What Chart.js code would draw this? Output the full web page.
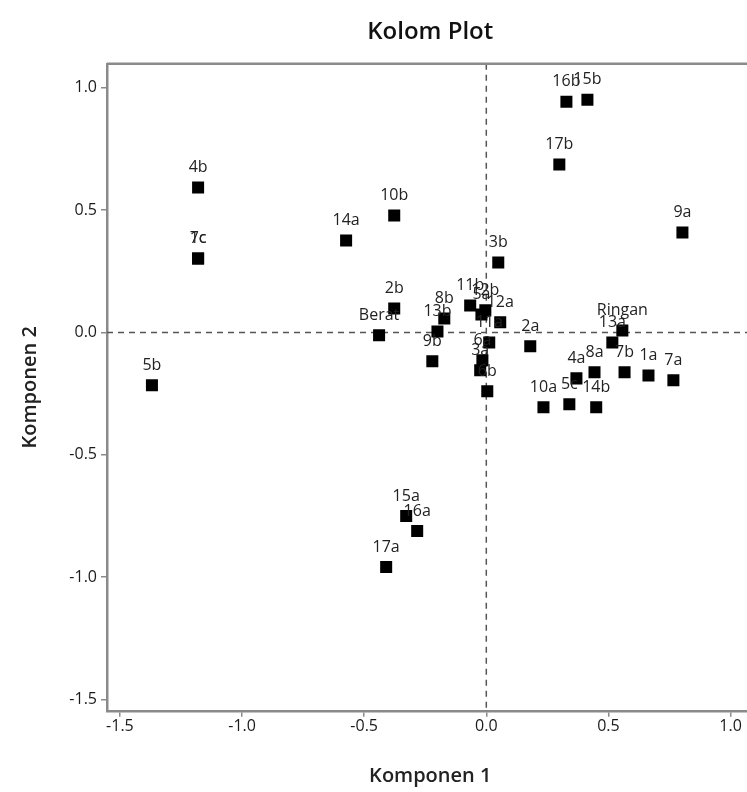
<!DOCTYPE html>
<html>
<head>
<meta charset="utf-8">
<script src="https://cdn.jsdelivr.net/npm/chart.js@4"></script>
<style>
  html, body { margin: 0; padding: 0; background: #fff; overflow: hidden; }
  #wrap { width: 762px; height: 792px; }
</style>
</head>
<body>
<div id="wrap"><canvas id="graph"></canvas></div>
<script>
// point labels + scores
const pointLabels = ['4b', '1c', '7c', '14a', '10b', '2b', 'Berat', '13b', '8b', '9b', '5b',
    '15a', '16a', '17a', '11b', '12b', '5a', '12a', '11a', '6a', '3a', '6b', '3b', '2a',
    '10a', '5c', '14b', '4a', '8a', '7b', '1a', '7a', 'Ringan', '13a', '16b', '15b', '17b', '9a'];
const komponen1 = [-1.18, -1.18, -1.18, -0.574, -0.377, -0.377, -0.439, -0.20, -0.172, -0.221, -1.369,
    -0.328, -0.283, -0.41, -0.066, -0.004, -0.02, 0.057, 0.012, -0.016, -0.025, 0.004, 0.049, 0.18,
    0.234, 0.34, 0.45, 0.369, 0.443, 0.566, 0.664, 0.766, 0.557, 0.516, 0.328, 0.414, 0.299, 0.803];
const komponen2 = [0.592, 0.302, 0.302, 0.376, 0.478, 0.098, -0.012, 0.004, 0.057, -0.118, -0.216,
    -0.751, -0.812, -0.959, 0.110, 0.090, 0.073, 0.041, -0.041, -0.114, -0.155, -0.241, 0.286, -0.057,
    -0.306, -0.294, -0.306, -0.188, -0.163, -0.163, -0.176, -0.196, 0.008, -0.041, 0.943, 0.951, 0.686, 0.408];
const xTicks = [-1.5, -1.0, -0.5, 0.0, 0.5, 1.0];
const yTicks = [-1.5, -1.0, -0.5, 0.0, 0.5, 1.0];

const fontName = "'Open Sans', 'Noto Sans', sans-serif";
const axisGray = '#8a8a8a';

// dashed zero lines, top frame line and the text over each point
const extras = {
    id: 'extras',
    beforeDatasetsDraw(chart) {
        const {ctx, chartArea, scales} = chart;
        ctx.save();
        ctx.strokeStyle = '#555';
        ctx.lineWidth = 1.5;
        ctx.setLineDash([6, 5]);
        const x0 = scales.x.getPixelForValue(0);
        const y0 = scales.y.getPixelForValue(0);
        ctx.beginPath();
        ctx.moveTo(x0, chartArea.top);
        ctx.lineTo(x0, chartArea.bottom);
        ctx.moveTo(chartArea.left, y0);
        ctx.lineTo(chartArea.right, y0);
        ctx.stroke();
        ctx.setLineDash([]);
        ctx.strokeStyle = axisGray;
        ctx.lineWidth = 2.5;
        ctx.beginPath();
        ctx.moveTo(chartArea.left, chartArea.top);
        ctx.lineTo(chartArea.right, chartArea.top);
        ctx.stroke();
        ctx.restore();
    },
    afterDatasetsDraw(chart) {
        const {ctx} = chart;
        const meta = chart.getDatasetMeta(0);
        ctx.save();
        ctx.font = '16px ' + fontName;
        ctx.fillStyle = '#222';
        ctx.textAlign = 'center';
        ctx.textBaseline = 'middle';
        meta.data.forEach((pt, i) => {
            ctx.fillText(pointLabels[i], pt.x, pt.y - 20);
        });
        ctx.restore();
    }
};

const points = komponen1.map((x, i) => ({x: x, y: komponen2[i]}));

new Chart(document.getElementById('graph'), {
    type: 'scatter',
    data: {
        datasets: [{
            data: points,
            pointStyle: 'rect',
            pointRadius: 8.5,
            pointHoverRadius: 8.5,
            backgroundColor: '#000',
            borderColor: '#000',
            borderWidth: 0
        }]
    },
    options: {
        responsive: true,
        maintainAspectRatio: false,
        animation: false,
        layout: {padding: {left: 14, right: 0, top: 8, bottom: 4}},
        plugins: {
            legend: {display: false},
            tooltip: {enabled: false},
            title: {
                display: true,
                text: 'Kolom Plot',
                fullSize: false,
                color: '#111',
                font: {family: fontName, size: 24, weight: '600'},
                padding: {top: 10, bottom: 17}
            }
        },
        scales: {
            x: {
                type: 'linear',
                min: -1.553,
                max: 1.094,
                afterBuildTicks: (scale) => { scale.ticks = xTicks.map(v => ({value: v})); },
                ticks: {
                    color: '#1a1a1a',
                    font: {family: fontName, size: 16},
                    padding: 0,
                    callback: (v) => v.toFixed(1)
                },
                grid: {drawOnChartArea: false, color: axisGray, tickLength: 6, lineWidth: 1.5},
                border: {color: axisGray, width: 2.5},
                title: {
                    display: true,
                    text: 'Komponen 1',
                    color: '#222',
                    font: {family: fontName, size: 20, weight: '600'},
                    padding: {top: 28, bottom: 0}
                }
            },
            y: {
                type: 'linear',
                min: -1.547,
                max: 1.098,
                afterBuildTicks: (scale) => { scale.ticks = yTicks.map(v => ({value: v})); },
                afterFit: (scale) => { scale.width = 93; },
                ticks: {
                    color: '#1a1a1a',
                    font: {family: fontName, size: 16},
                    padding: 4,
                    callback: (v) => v.toFixed(1)
                },
                grid: {drawOnChartArea: false, color: axisGray, tickLength: 6, lineWidth: 1.5},
                border: {color: axisGray, width: 2.5},
                title: {
                    display: true,
                    text: 'Komponen 2',
                    color: '#222',
                    font: {family: fontName, size: 20, weight: '600'},
                    padding: {bottom: 14}
                }
            }
        }
    },
    plugins: [extras]
});
</script>
</body>
</html>
